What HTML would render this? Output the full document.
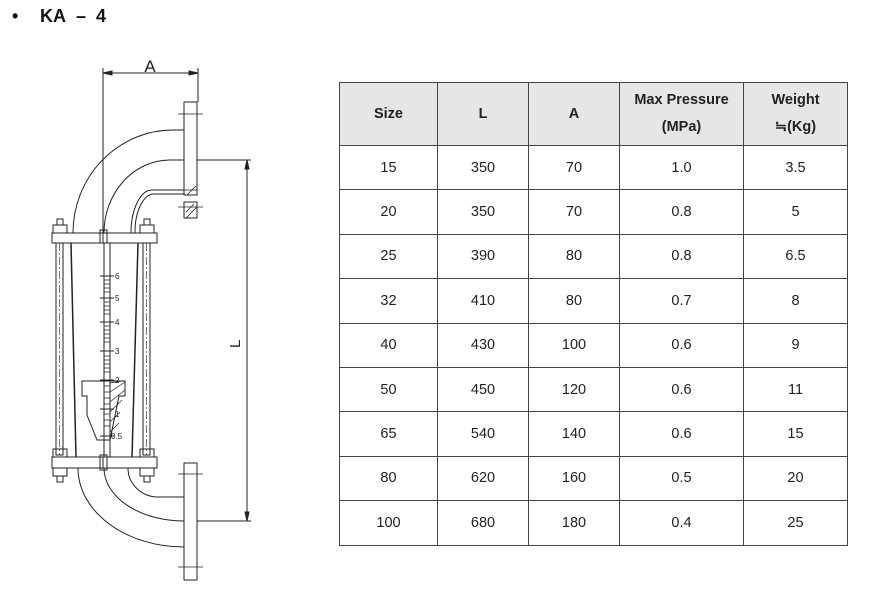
<!DOCTYPE html>
<html><head><meta charset="utf-8"><style>
body{margin:0;width:869px;height:591px;background:#fff;position:relative;overflow:hidden;font-family:"Liberation Sans","Noto Sans CJK KR",sans-serif;}
.t{position:absolute;top:6px;font-size:18px;font-weight:bold;color:#111;}
table{position:absolute;left:339px;top:82px;border-collapse:collapse;border:1.5px solid #333;}
td{border:1px solid #444;text-align:center;font-size:14.5px;color:#222;height:43.4px;padding:0;}
tr.h td{background:#e6e6e6;font-weight:bold;height:62px;line-height:27px;}
</style></head><body>
<div class="t" style="left:12px">•</div>
<div class="t" style="left:40px">KA</div>
<div class="t" style="left:76px">–</div>
<div class="t" style="left:96px">4</div>
<svg width="869" height="591" style="position:absolute;left:0;top:0" fill="none" stroke="#222" stroke-width="1">
<line x1="103" y1="68" x2="103" y2="235"/>
<line x1="198" y1="68" x2="198" y2="102"/>
<line x1="103" y1="73" x2="198" y2="73"/>
<path d="M103 73l9 -2v4z M198 73l-9 -2v4z" fill="#222"/>
<text x="150" y="72" font-size="17" fill="#222" stroke="none" text-anchor="middle" font-family="Liberation Sans">A</text>
<rect x="184" y="102" width="13" height="93"/>
<rect x="184" y="202" width="13" height="16"/>
<path d="M184 190h13M186 212l8-8M186 218l11-11M187 195l9-9" stroke-width="0.8"/>
<line x1="178" y1="114" x2="203" y2="114" stroke-width="0.8"/>
<line x1="178" y1="207" x2="203" y2="207" stroke-width="0.8"/>
<path d="M184 130H173A100 103 0 0 0 73 233"/>
<path d="M184 160H170A66 73 0 0 0 104 233"/>
<path d="M184 190H152A21 43 0 0 0 131 233"/>
<path d="M184 194H154A19 38 0 0 0 135 233"/>
<rect x="52" y="233" width="51" height="10"/>
<rect x="103" y="233" width="54" height="10"/>
<rect x="100" y="230" width="7" height="13"/>
<rect x="53" y="225" width="14" height="8"/><rect x="57" y="219" width="6" height="6"/>
<rect x="140" y="225" width="14" height="8"/><rect x="144" y="219" width="6" height="6"/>
<rect x="56" y="243" width="7" height="212"/>
<rect x="143" y="243" width="7" height="212"/>
<line x1="59.5" y1="243" x2="59.5" y2="455" stroke-dasharray="8 2 2 2" stroke-width="0.6"/>
<line x1="146.5" y1="243" x2="146.5" y2="455" stroke-dasharray="8 2 2 2" stroke-width="0.6"/>
<line x1="71" y1="243" x2="76" y2="457" stroke-width="1.5"/>
<line x1="138" y1="243" x2="132" y2="457" stroke-width="1.5"/>
<line x1="104" y1="243" x2="104" y2="457"/>
<line x1="110" y1="243" x2="110" y2="457"/>
<path d="M100 276h14M100 298h14M100 322h14M100 351h14M100 380h14M100 409h14M100 436h14" />
<path d="M104 280h6M104 284h6M104 288h6M104 292h6M104 302h6M104 306h6M104 310h6M104 314h6M104 326h6M104 330h6M104 334h6M104 338h6M104 342h6M104 356h6M104 360h6M104 364h6M104 368h6M104 372h6M104 386h6M104 392h6M104 398h6M104 404h6M104 414h6M104 420h6M104 426h6" stroke-width="0.7"/>
<g fill="#222" stroke="none" font-size="8" font-family="Liberation Sans">
<text x="115" y="279">6</text><text x="115" y="301">5</text><text x="115" y="325">4</text><text x="115" y="354">3</text><text x="115" y="383">2</text><text x="115" y="417">1</text><text x="111" y="439">0.5</text>
</g>
<path d="M82 381h43v15h-6l-9 44h-13l-10-25v-19h-5z"/>
<path d="M110 383l12 -2M110 392l15-10M110 402l15-12M110 412l12-12M110 422l10-10M110 432l9-9" stroke-width="0.7"/>
<rect x="52" y="457" width="51" height="11"/>
<rect x="103" y="457" width="54" height="11"/>
<rect x="100" y="455" width="7" height="15"/>
<rect x="53" y="468" width="14" height="8"/><rect x="57" y="476" width="6" height="6"/>
<rect x="140" y="468" width="14" height="8"/><rect x="144" y="476" width="6" height="6"/>
<rect x="53" y="449" width="14" height="8"/><rect x="140" y="449" width="14" height="8"/>
<path d="M78 468A106 79 0 0 0 184 547"/>
<path d="M104 468A80 53 0 0 0 184 521"/>
<path d="M128 468A30 29 0 0 0 158 497H184"/>
<rect x="184" y="463" width="13" height="117"/>
<line x1="178" y1="474" x2="203" y2="474" stroke-width="0.8"/>
<line x1="178" y1="567" x2="203" y2="567" stroke-width="0.8"/>
<line x1="197" y1="160" x2="251" y2="160"/>
<line x1="197" y1="521" x2="251" y2="521"/>
<line x1="247" y1="160" x2="247" y2="521"/>
<path d="M247 160l-2 9h4z M247 521l-2-9h4z" fill="#222"/>
<text x="236" y="344" font-size="15" fill="#222" stroke="none" font-family="Liberation Sans" transform="rotate(-90 240 344)">L</text>
</svg>
<table>
<colgroup><col style="width:98px"><col style="width:91px"><col style="width:91px"><col style="width:124px"><col style="width:104px"></colgroup>
<tr class="h"><td>Size</td><td>L</td><td>A</td><td>Max Pressure<br>(MPa)</td><td>Weight<br>≒(Kg)</td></tr>
<tr><td>15</td><td>350</td><td>70</td><td>1.0</td><td>3.5</td></tr>
<tr><td>20</td><td>350</td><td>70</td><td>0.8</td><td>5</td></tr>
<tr><td>25</td><td>390</td><td>80</td><td>0.8</td><td>6.5</td></tr>
<tr><td>32</td><td>410</td><td>80</td><td>0.7</td><td>8</td></tr>
<tr><td>40</td><td>430</td><td>100</td><td>0.6</td><td>9</td></tr>
<tr><td>50</td><td>450</td><td>120</td><td>0.6</td><td>11</td></tr>
<tr><td>65</td><td>540</td><td>140</td><td>0.6</td><td>15</td></tr>
<tr><td>80</td><td>620</td><td>160</td><td>0.5</td><td>20</td></tr>
<tr><td>100</td><td>680</td><td>180</td><td>0.4</td><td>25</td></tr>
</table>
</body></html>
